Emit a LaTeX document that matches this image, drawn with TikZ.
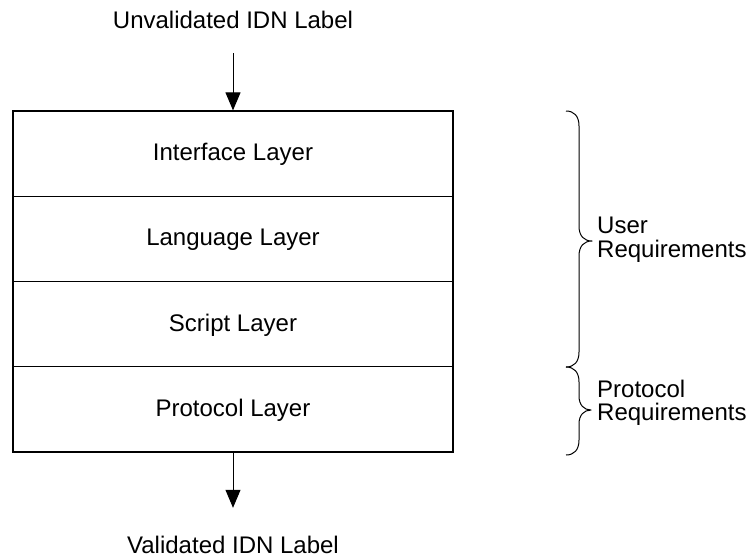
\documentclass[tikz,border=0pt]{standalone}
\usepackage{fontspec}
\setmainfont{Liberation Sans}
\usetikzlibrary{arrows.meta}

\begin{document}
\begin{tikzpicture}[x=1pt,y=-1pt,
  every node/.style={font=\fontsize{24}{24}\selectfont},
  layer/.style={draw=black, line width=1.2pt, minimum width=440pt,
                minimum height=85.25pt, inner sep=0pt,
                text height=17pt, text depth=3pt},
  caption/.style={inner sep=0pt, text height=17pt, text depth=5pt},
  sidetext/.style={inner sep=0pt, anchor=base west},
  flow/.style={line width=1pt, -{Triangle[width=15pt,length=18pt]}},
  bracket/.style={line width=1pt, line join=round}]
  \useasboundingbox (0,0) rectangle (751,558);

  % stack of validation layers
  \node[layer] (iface) at (233,153.6) {Interface Layer};
  \node[layer] (lang)  at (233,238.9) {Language Layer};
  \node[layer] (script) at (233,324.1) {Script Layer};
  \node[layer] (proto) at (233,409.4) {Protocol Layer};

  % input and output labels
  \node[caption, anchor=base] (input)  at (233,28)  {Unvalidated IDN Label};
  \node[caption, anchor=base] (output) at (233,553) {Validated IDN Label};

  \draw[flow, shorten <=20pt] (input.south) -- (iface.north);
  \draw[flow, shorten >=28pt] (proto.south) -- (output.north);

  % braces grouping the layers
  \coordinate (ubtop) at (566,111);
  \coordinate (ubtip) at (592,241);
  \coordinate (ubbot) at (566,367);
  \coordinate (pbtip) at (591,410);
  \coordinate (pbbot) at (566,455);

  \draw[bracket] (ubtop) .. controls (574,111) and (579,116) .. (579,126)
    -- (579,226) .. controls (579,236) and (584,241) .. (ubtip)
    .. controls (584,241) and (579,246) .. (579,256)
    -- (579,352) .. controls (579,362) and (574,367) .. (ubbot);

  \draw[bracket] (ubbot) .. controls (574,367) and (579,372) .. (579,382)
    -- (579,396) .. controls (579,405) and (584,410) .. (pbtip)
    .. controls (584,410) and (579,415) .. (579,424)
    -- (579,440) .. controls (579,450) and (574,455) .. (pbbot);

  % requirement labels
  \node[sidetext] (userA) at (597,233) {User};
  \node[sidetext] (userB) at (597,257) {Requirements};
  \node[sidetext] (protA) at (597,397) {Protocol};
  \node[sidetext] (protB) at (597,420) {Requirements};
\end{tikzpicture}
\end{document}
